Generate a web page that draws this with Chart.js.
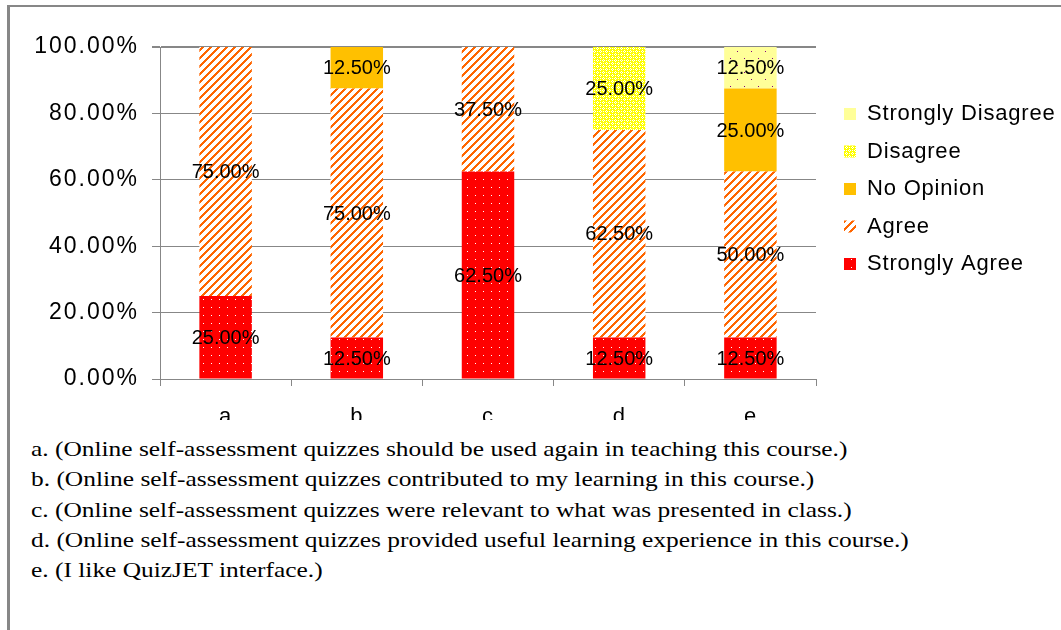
<!DOCTYPE html>
<html>
<head>
<meta charset="utf-8">
<script src="https://cdn.jsdelivr.net/npm/chart.js@4/dist/chart.umd.min.js"></script>
<style>
  html, body { margin: 0; padding: 0; background: #fff; }
  body { width: 1061px; height: 630px; position: relative; overflow: hidden; }
  #frame {
    position: absolute; left: 7px; top: 5px; width: 1100px; height: 700px;
    border-top: 2px solid #878787; border-left: 3px solid #878787;
  }
  #chartBox { position: absolute; left: 0; top: 0; width: 1061px; height: 440px; }
  #caption {
    position: absolute; left: 10px; top: 420px; width: 1051px; height: 210px;
    background: #fff;
  }
  #captionText {
    position: absolute; left: 21px; top: 14px; white-space: nowrap;
    font-family: "Liberation Serif", "Times New Roman", serif;
    font-size: 22px; line-height: 30.25px; color: #000;
    transform: scaleX(1.155); transform-origin: 0 0;
  }
</style>
</head>
<body>
<div id="frame"></div>
<div id="chartBox"><canvas id="chart"></canvas></div>
<div id="caption">
  <div id="captionText">
    <div>a. (Online self-assessment quizzes should be used again in teaching this course.)</div>
    <div>b. (Online self-assessment quizzes contributed to my learning in this course.)</div>
    <div>c. (Online self-assessment quizzes were relevant to what was presented in class.)</div>
    <div>d. (Online self-assessment quizzes provided useful learning experience in this course.)</div>
    <div>e. (I like QuizJET interface.)</div>
  </div>
</div>
<script>
// Survey answers, percent of students per question
const categories = ["a", "b", "c", "d", "e"];
const stronglyAgree = [25, 12.5, 62.5, 12.5, 12.5];
const agree = [75, 75, 37.5, 62.5, 50];
const noOpinion = [0, 12.5, 0, 0, 25];
const disagree = [0, 0, 0, 25, 0];
const stronglyDisagree = [0, 0, 0, 0, 12.5];
const yTicks = [0, 20, 40, 60, 80, 100];

Chart.defaults.font.family = "'Liberation Sans', Arial, sans-serif";
Chart.defaults.color = "#000";

// small tiled fills, like the old Excel patterns
function makePattern(w, h, bg, fg, isDot) {
  const c = document.createElement("canvas");
  c.width = w;
  c.height = h;
  const g = c.getContext("2d");
  g.fillStyle = bg;
  g.fillRect(0, 0, w, h);
  g.fillStyle = fg;
  for (let y = 0; y < h; y++) {
    for (let x = 0; x < w; x++) {
      if (isDot(x, y)) g.fillRect(x, y, 1, 1);
    }
  }
  return g.createPattern(c, "repeat");
}

const redDots = makePattern(8, 8, "#FF0000", "#FFFFFF", (x, y) => x === 3 && y === 3);
const orangeStripes = makePattern(8, 8, "#FFFFFF", "#FF6600", (x, y) => (x + y) % 8 < 3);
const yellowCheck = makePattern(6, 6, "#FFFF00", "#FFFFFF", (x, y) =>
  (y === 0 && x % 2 === 0) || (x === 0 && y % 2 === 0) ||
  (y === 3 && x % 2 === 1) || (x === 3 && y % 2 === 1));
const paleDots = makePattern(14, 14, "#FFFF99", "#800080", (x, y) =>
  (x === 2 && y === 2) || (x === 9 && y === 9));

const GRID = "#878787";
const LEGEND_SPACING = "0.8px";

// percentage text in the middle of each segment, then wider spacing for y ticks
const segmentLabels = {
  id: "segmentLabels",
  beforeLayout(chart) {
    chart.ctx.letterSpacing = LEGEND_SPACING;
  },
  beforeDraw(chart) {
    chart.ctx.letterSpacing = LEGEND_SPACING;
  },
  afterDatasetsDraw(chart) {
    const ctx = chart.ctx;
    ctx.save();
    ctx.letterSpacing = "0px";
    ctx.font = "20px 'Liberation Sans', Arial, sans-serif";
    ctx.fillStyle = "#000";
    ctx.textAlign = "center";
    ctx.textBaseline = "middle";
    chart.data.datasets.forEach((ds, di) => {
      const meta = chart.getDatasetMeta(di);
      meta.data.forEach((bar, i) => {
        const v = ds.data[i];
        if (!v) return;
        const p = bar.getProps(["x", "y", "base"], true);
        ctx.fillText(v.toFixed(2) + "%", p.x, (p.y + p.base) / 2 + 1);
      });
    });
    ctx.restore();
    ctx.letterSpacing = "2px";
  },
  afterDraw(chart) {
    chart.ctx.letterSpacing = "0px";
  }
};

new Chart(document.getElementById("chart"), {
  type: "bar",
  data: {
    labels: categories,
    datasets: [
      { label: "Strongly Agree", data: stronglyAgree, backgroundColor: redDots },
      { label: "Agree", data: agree, backgroundColor: orangeStripes },
      { label: "No Opinion", data: noOpinion, backgroundColor: "#FFC000" },
      { label: "Disagree", data: disagree, backgroundColor: yellowCheck },
      { label: "Strongly Disagree", data: stronglyDisagree, backgroundColor: paleDots }
    ].map((d) => Object.assign(d, {
      yAxisID: "y",
      borderWidth: 0,
      barPercentage: 0.4,
      categoryPercentage: 1
    }))
  },
  options: {
    responsive: true,
    maintainAspectRatio: false,
    animation: false,
    devicePixelRatio: 1,
    layout: { padding: { top: 47, left: 0, right: 0, bottom: 0 } },
    scales: {
      x: {
        stacked: true,
        grid: { drawOnChartArea: false, color: GRID, tickLength: 7 },
        border: { color: GRID, width: 1 },
        ticks: { font: { size: 22 }, padding: 18 },
        afterFit: (s) => { s.height = 61; }
      },
      y: {
        stacked: true,
        min: 0,
        max: 100,
        afterBuildTicks: (axis) => { axis.ticks = yTicks.map((v) => ({ value: v })); },
        grid: {
          color: GRID,
          tickLength: 8,
          lineWidth: (c) => (c.tick && c.tick.value === 100 ? 2 : 1)
        },
        border: { color: GRID, width: 1 },
        ticks: {
          z: 1,
          font: { size: 23 },
          padding: 13,
          callback: (v) => v.toFixed(2) + "%"
        },
        afterFit: (s) => { s.width = 160; }
      },
      gap: {
        type: "linear",
        position: "right",
        display: true,
        grid: { display: false },
        border: { display: false },
        ticks: { display: false },
        afterFit: (s) => { s.width = 12.5; }
      }
    },
    plugins: {
      tooltip: { enabled: false },
      legend: {
        position: "right",
        align: "start",
        reverse: true,
        maxWidth: 232.5,
        title: { display: true, text: "", font: { size: 10, lineHeight: 1 }, padding: { top: 30.5, bottom: 0 } },
        labels: {
          boxWidth: 12,
          boxHeight: 12,
          padding: 15.5,
          color: "#000",
          font: { size: 22 }
        }
      }
    }
  },
  plugins: [segmentLabels]
});
</script>
</body>
</html>
